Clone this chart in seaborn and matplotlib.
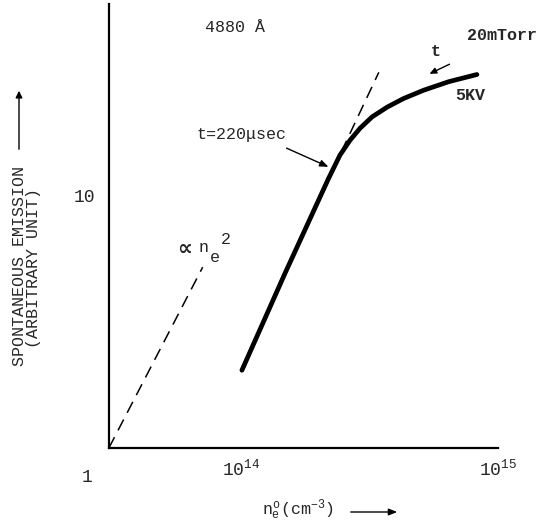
import numpy as np
import pandas as pd
import matplotlib
matplotlib.use("Agg")
import matplotlib.pyplot as plt
import seaborn as sns

# ---- data (log-log) ----
curve_ne = [1.01e14, 1.486e14, 2.19e14, 2.43e14, 2.66e14, 2.91e14, 3.24e14,
            3.71e14, 4.29e14, 5.14e14, 6.43e14, 8.28e14]
curve_em = [2.03, 4.91, 11.6, 14.4, 16.5, 18.4, 20.4,
            22.3, 24.1, 26.0, 28.1, 30.0]

sq_ne = [3.07e13, 7.11e13]          # "∝ n_e^2" reference line
sq_em = [1.0, 5.19]

tan_ne = [2.28e14, 3.44e14]         # tangent dashed line
tan_em = [12.6, 30.6]

x_ticks = [1e14, 3e14, 1e15]
x_ticklabels = ["$10^{14}$", "", "$10^{15}$"]
y_ticks = [1, 3, 10, 30]
y_ticklabels = ["", "", "10", ""]

sns.set_style("white")
plt.rcParams["font.family"] = ["Liberation Mono", "DejaVu Sans"]
plt.rcParams["mathtext.fontset"] = "custom"
plt.rcParams["mathtext.rm"] = "Liberation Mono"
plt.rcParams["mathtext.it"] = "Liberation Mono"
plt.rcParams["mathtext.bf"] = "Liberation Mono:bold"

W, H = 537, 527
fig = plt.figure(figsize=(W / 100, H / 100), dpi=100)
ax = fig.add_axes([109 / W, (H - 448) / H, (498 - 109) / W, (448 - 4) / H])

df_curve = pd.DataFrame({"ne": curve_ne, "em": curve_em})
df_sq = pd.DataFrame({"ne": sq_ne, "em": sq_em})
df_tan = pd.DataFrame({"ne": tan_ne, "em": tan_em})

sns.lineplot(data=df_curve, x="ne", y="em", ax=ax, color="black", lw=3.4,
             sort=False, solid_capstyle="round", solid_joinstyle="round")
sns.lineplot(data=df_sq, x="ne", y="em", ax=ax, color="black", lw=1.1,
             linestyle=(0, (8, 5)))
sns.lineplot(data=df_tan, x="ne", y="em", ax=ax, color="black", lw=1.1,
             linestyle=(0, (8, 5)))

ax.set_xscale("log")
ax.set_yscale("log")
ax.set_xlim(10 ** 13.4876, 1e15)
ax.set_ylim(1, 10 ** 1.756)

for s in ["top", "right"]:
    ax.spines[s].set_visible(False)
for s in ["left", "bottom"]:
    ax.spines[s].set_linewidth(1.6)
    ax.spines[s].set_color("black")

ax.minorticks_off()
ax.set_xticks(x_ticks)
ax.set_xticklabels(x_ticklabels, fontsize=13)
ax.set_yticks(y_ticks)
ax.set_yticklabels(y_ticklabels, fontsize=13)
ax.tick_params(axis="both", direction="in", length=7, width=1.4, color="black")
ax.tick_params(axis="x", pad=8)
ax.tick_params(axis="y", pad=10)
ax.set_xlabel("")
ax.set_ylabel("")

# origin label
fig.text(87 / W, 1 - 477 / H, "1", fontsize=13, ha="center", va="center")

# y-axis label with arrow
fig.text(20 / W, 1 - 266 / H, "SPONTANEOUS EMISSION", rotation=90,
         fontsize=12, ha="center", va="center")
fig.text(34 / W, 1 - 268 / H, "(ARBITRARY UNIT)", rotation=90,
         fontsize=12, ha="center", va="center")
fig.add_artist(matplotlib.patches.FancyArrowPatch(
    (19 / W, 1 - 152 / H), (19 / W, 1 - 88 / H), transform=fig.transFigure,
    arrowstyle="-|>,head_length=4,head_width=2", lw=1.0, color="black"))

# x-axis label with arrow
fig.text(298 / W, 1 - 510 / H, r"$n_e^o$(cm$^{-3}$)", fontsize=12,
         ha="center", va="center")
fig.add_artist(matplotlib.patches.FancyArrowPatch(
    (348 / W, 1 - 512 / H), (400 / W, 1 - 512 / H), transform=fig.transFigure,
    arrowstyle="-|>,head_length=5,head_width=2", lw=1.0, color="black"))

# annotations
fig.text(235 / W, 1 - 27 / H, "4880 Å", fontsize=12, ha="center", va="center")
fig.text(502 / W, 1 - 35 / H, "20mTorr", fontsize=12, fontweight="bold",
         ha="center", va="center")
fig.text(436 / W, 1 - 51 / H, "t", fontsize=12, fontweight="bold",
         ha="center", va="center")
fig.add_artist(matplotlib.patches.FancyArrowPatch(
    (452 / W, 1 - 63 / H), (427 / W, 1 - 75 / H), transform=fig.transFigure,
    arrowstyle="-|>,head_length=4,head_width=1.8", lw=1.0, color="black"))
fig.text(470 / W, 1 - 96 / H, "5KV", fontsize=12, fontweight="bold",
         ha="center", va="center")
fig.text(242 / W, 1 - 135 / H, "t=220μsec", fontsize=12, ha="center", va="center")
fig.add_artist(matplotlib.patches.FancyArrowPatch(
    (284 / W, 1 - 147 / H), (331 / W, 1 - 168 / H), transform=fig.transFigure,
    arrowstyle="-|>,head_length=5,head_width=2", lw=1.0, color="black"))

# "∝ n_e^2" label
fig.text(185 / W, 1 - 249 / H, "∝", fontsize=15, fontweight="bold",
         family=["DejaVu Sans"], ha="center", va="center")
fig.text(204 / W, 1 - 248 / H, "n", fontsize=12, ha="center", va="center")
fig.text(215 / W, 1 - 258 / H, "e", fontsize=12, ha="center", va="center")
fig.text(226 / W, 1 - 240 / H, "2", fontsize=12, ha="center", va="center")

fig.savefig("out.png", dpi=100)
